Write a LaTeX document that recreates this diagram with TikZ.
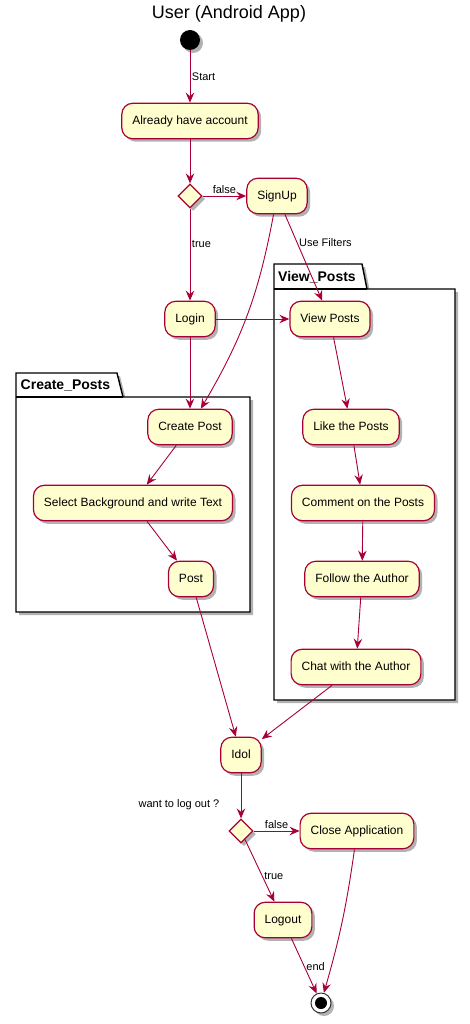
\documentclass[tikz,border=0pt]{standalone}
\usepackage{fontspec}
\setmainfont{Liberation Sans}
\usepackage{tikz}
\usetikzlibrary{arrows.meta,shapes.geometric,shadows}
\definecolor{umlred}{HTML}{A80036}
\definecolor{umlfill}{HTML}{FEFECE}
\tikzset{umlshadow/.style={drop shadow={shadow xshift=3pt, shadow yshift=-3pt, opacity=.3, fill=black}}}
\tikzset{activity/.style={rectangle, rounded corners=11pt, draw=umlred, fill=umlfill, line width=1.2pt, font=\fontsize{12}{14}\selectfont, text height=8.6pt, text depth=2.4pt, minimum height=35.5pt, inner xsep=10.5pt, umlshadow}}
\tikzset{decision/.style={diamond, draw=umlred, fill=umlfill, line width=1.2pt, minimum width=24pt, minimum height=24pt, inner sep=0pt, umlshadow}}
\tikzset{initial/.style={circle, fill=black, minimum size=20pt, inner sep=0pt, umlshadow}}
\tikzset{final/.style={circle, draw=black!80, fill=white, line width=1pt, minimum size=20pt, inner sep=0pt, umlshadow, path picture={\fill[black] (path picture bounding box.center) circle (6pt);}}}
\tikzset{package/.style={draw=black, fill=white, line width=1.4pt, umlshadow}}
\tikzset{pkgline/.style={draw=black, line width=1.4pt}}
\tikzset{pkgtitle/.style={font=\bfseries\fontsize{14}{16}\selectfont, anchor=west, inner sep=0pt}}
\tikzset{lbl/.style={font=\fontsize{11}{13}\selectfont, inner sep=1.5pt}}
\tikzset{arc/.style={-{Stealth[length=10pt, width=8.5pt, inset=3.5pt]}, draw=umlred, line width=0.9pt}}

\begin{document}
\begin{tikzpicture}
[x=1pt, y=-1pt]
\useasboundingbox (0,0) rectangle (470,1024);
%title and the two packages
\node (title) at (229,14)[font=\fontsize{18}{20}\selectfont]{User (Android App)};
\filldraw[package] (274,264) -- (362,264) -- (367,289) -- (455,289) -- (455,700) -- (274,700) -- cycle;
\draw[pkgline] (274,289) -- (367,289);
\node (viewpkg) at (278,277)[pkgtitle]{View\_Posts};
\filldraw[package] (16,373) -- (117,373) -- (123,397) -- (250,397) -- (250,612) -- (16,612) -- cycle;
\draw[pkgline] (16,397) -- (123,397);
\node (createpkg) at (20.5,385)[pkgtitle]{Create\_Posts};
%activities
\node (start) at (190,40)[initial]{};
\node (already) at (190,121)[activity]{Already have account};
\node (ask) at (190,196)[decision]{};
\node (signup) at (277,196)[activity]{SignUp};
\node (login) at (190,319)[activity]{Login};
\node (view) at (330,319)[activity]{View Posts};
\node (like) at (351,427)[activity]{Like the Posts};
\node (comment) at (363,503)[activity]{Comment on the Posts};
\node (follow) at (362,579)[activity]{Follow the Author};
\node (chat) at (356,667)[activity]{Chat with the Author};
\node (create) at (190,427)[activity]{Create Post};
\node (select) at (133,503)[activity]{Select Background and write Text};
\node (post) at (191,579)[activity]{Post};
\node (idol) at (241,755)[activity]{Idol};
\node (quit) at (241,831)[decision]{};
\node (quitlbl) at (221,805)[lbl, anchor=east]{want to log out ?};
\node (close) at (357,831)[activity]{Close Application};
\node (logout) at (283,920)[activity]{Logout};
\node (stop) at (321,1003)[final]{};
%flows
\draw[arc] (start)--(already)node [pos=0.5, right, lbl] {Start};
\draw[arc] (already)--(ask);
\draw[arc] (ask)--(signup)node [pos=0.5, above, lbl] {false};
\draw[arc] (ask)--(login)node [pos=0.38, right, lbl] {true};
\draw[arc] (signup)--(view)node [pos=0.33, right, lbl] {Use Filters};
\draw[arc] (signup) to[bend left=10] (create);
\draw[arc] (login)--(view);
\draw[arc] (login)--(create);
\draw[arc] (view)--(like);
\draw[arc] (like)--(comment);
\draw[arc] (comment)--(follow);
\draw[arc] (follow)--(chat);
\draw[arc] (create)--(select);
\draw[arc] (select)--(post);
\draw[arc] (post)--(idol);
\draw[arc] (chat)--(idol);
\draw[arc] (idol)--(quit);
\draw[arc] (quit)--(close)node [pos=0.5, above, lbl] {false};
\draw[arc] (quit)--(logout)node [pos=0.59, right, lbl] {true};
\draw[arc] (logout)--(stop)node [pos=0.52, right, lbl] {end};
\draw[arc] (close) to[bend left=4] (stop);
\end{tikzpicture}
\end{document}
